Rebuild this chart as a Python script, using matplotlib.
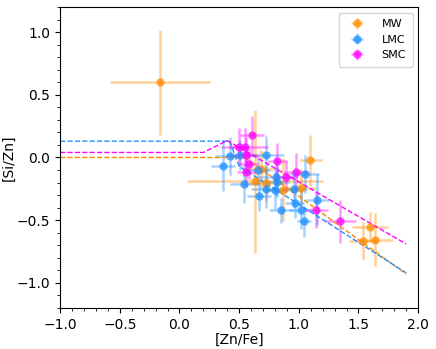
import matplotlib
matplotlib.use("Agg")
import matplotlib.pyplot as plt
from matplotlib.ticker import AutoMinorLocator

# MW data
mw_x = [-0.166, 0.686, 0.63, 0.723, 0.868, 1.02, 1.098, 1.597, 1.538, 1.639]
mw_y = [0.60, -0.09, -0.19, -0.20, -0.258, -0.245, -0.024, -0.556, -0.665, -0.654]
mw_xerr = [0.42, 0.12, 0.57, 0.15, 0.15, 0.12, 0.10, 0.15, 0.12, 0.15]
mw_yerr = [0.42, 0.15, 0.57, 0.15, 0.25, 0.15, 0.20, 0.12, 0.15, 0.21]

# LMC data
lmc_x = [0.42, 0.364, 0.51, 0.723, 0.66, 1.05, 0.81, 0.54, 0.818, 0.723,
         0.80, 0.96, 0.667, 0.966, 0.85, 1.02, 1.045, 1.154]
lmc_y = [0.01, -0.064, 0.02, 0.021, -0.098, -0.13, -0.157, -0.21, -0.197, -0.25,
         -0.26, -0.25, -0.31, -0.36, -0.42, -0.417, -0.51, -0.335]
lmc_xerr = [0.12, 0.10, 0.12, 0.15, 0.10, 0.12, 0.15, 0.12, 0.10, 0.12,
            0.10, 0.10, 0.10, 0.08, 0.10, 0.10, 0.06, 0.10]
lmc_yerr = [0.15, 0.20, 0.12, 0.15, 0.12, 0.15, 0.15, 0.15, 0.12, 0.15,
            0.15, 0.15, 0.12, 0.12, 0.10, 0.15, 0.12, 0.20]

# SMC data
smc_x = [0.608, 0.496, 0.546, 0.56, 0.582, 0.56, 0.818, 0.977, 0.89, 1.148, 1.347]
smc_y = [0.178, 0.082, 0.082, 0.016, -0.05, -0.117, -0.032, -0.112, -0.152, -0.415, -0.51]
smc_xerr = [0.10, 0.08, 0.20, 0.10, 0.08, 0.08, 0.08, 0.10, 0.10, 0.10, 0.13]
smc_yerr = [0.15, 0.15, 0.15, 0.15, 0.12, 0.12, 0.15, 0.15, 0.12, 0.15, 0.17]

# model lines (vertices)
mw_line_x = [-1.0, 0.55, 1.9]
mw_line_y = [0.0, 0.0, -0.93]
lmc_line_x = [-1.0, 0.42, 0.5, 1.9]
lmc_line_y = [0.13, 0.13, -0.07, -0.92]
smc_line_x = [-1.0, 0.2, 0.4, 1.9]
smc_line_y = [0.04, 0.04, 0.135, -0.69]

c_mw = "darkorange"
c_lmc = "dodgerblue"
c_smc = "magenta"

fig = plt.figure(figsize=(4.36, 3.49), dpi=100)
ax = fig.add_axes([0.138, 0.1175, 0.821, 0.8625])

for x, y, xe, ye, c, lab in [
    (mw_x, mw_y, mw_xerr, mw_yerr, c_mw, "MW"),
    (lmc_x, lmc_y, lmc_xerr, lmc_yerr, c_lmc, "LMC"),
    (smc_x, smc_y, smc_xerr, smc_yerr, c_smc, "SMC"),
]:
    eb = ax.errorbar(x, y, xerr=xe, yerr=ye, fmt="o", color=c,
                     ecolor=c, elinewidth=1.8, markersize=6, label=lab,
                     markeredgewidth=0)
    eb[0].set_alpha(0.75)
    for bl in eb[2]:
        bl.set_alpha(0.4)

for lx, ly, c in [(mw_line_x, mw_line_y, c_mw),
                  (lmc_line_x, lmc_line_y, c_lmc),
                  (smc_line_x, smc_line_y, c_smc)]:
    ax.plot(lx, ly, "--", color=c, lw=1.0)

ax.set_xlim(-1.0, 2.0)
ax.set_ylim(-1.2, 1.2)
ax.set_xticks([-1.0, -0.5, 0.0, 0.5, 1.0, 1.5, 2.0])
ax.set_yticks([-1.0, -0.5, 0.0, 0.5, 1.0])
ax.xaxis.set_minor_locator(AutoMinorLocator(5))
ax.yaxis.set_minor_locator(AutoMinorLocator(5))
ax.tick_params(labelsize=10)
ax.set_xlabel("[Zn/Fe]", fontsize=10, labelpad=1)
ax.set_ylabel("[Si/Zn]", fontsize=10, labelpad=1)
ax.legend(loc="upper right", fontsize=8, borderpad=0.6, handletextpad=1.2)

fig.savefig("out.png", dpi=100)
